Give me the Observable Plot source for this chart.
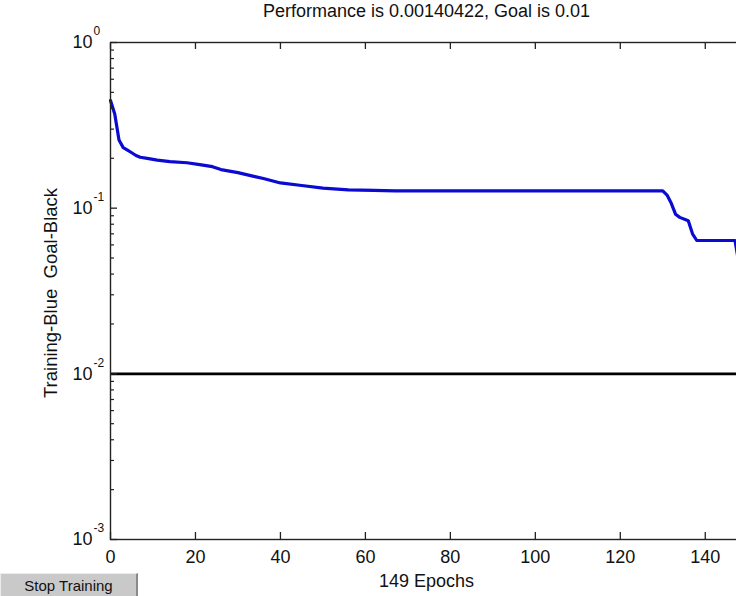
<!DOCTYPE html>
<html>
<head>
<meta charset="utf-8">
<script src="https://cdn.jsdelivr.net/npm/d3@7"></script>
<script src="https://cdn.jsdelivr.net/npm/@observablehq/plot@0.6"></script>
<style>
  html, body { margin: 0; padding: 0; background: #fff; }
  #wrap { position: relative; width: 736px; height: 596px; overflow: hidden; font-family: "Liberation Sans", Arial, sans-serif; }
  #title { position: absolute; left: 0; width: 853px; top: 2px; text-align: center; font-size: 18px; line-height: 18px; color: #111; }
  #xlabel { position: absolute; left: 0; width: 853px; top: 572px; text-align: center; font-size: 18px; line-height: 18px; color: #111; }
  #btn { position: absolute; left: 0; top: 573px; width: 135px; height: 26px; background: #c9c9c9;
         border-top: 1px solid #ececec; border-left: 1px solid #ececec; border-right: 2px solid #8a8a8a;
         font-size: 15px; line-height: 24px; text-align: center; color: #111; box-sizing: content-box; }
  #chart { position: absolute; left: 0; top: 0; width: 760px; }
  #chart svg { max-width: none !important; width: 760px; height: 596px; }
</style>
</head>
<body>
<div id="wrap">
  <div id="chart"></div>
  <div id="title">Performance is 0.00140422, Goal is 0.01</div>
  <div id="xlabel">149 Epochs</div>
  <div id="btn">Stop Training</div>
</div>
<script>
// ---- data ----
const epochs = [0, 1, 2, 3, 4, 5, 6, 7, 9, 11, 14, 18, 21, 24, 26, 30, 34, 36, 40, 45, 50, 56, 62, 67, 100, 130, 131, 132, 133, 134, 136, 137, 138, 147, 148, 149];
const performance = [0.446, 0.37, 0.258, 0.232, 0.224, 0.216, 0.208, 0.203, 0.199, 0.195, 0.191, 0.188, 0.183, 0.178, 0.171, 0.164, 0.155, 0.151, 0.142, 0.137, 0.132, 0.129, 0.128, 0.127, 0.127, 0.127, 0.12, 0.107, 0.092, 0.088, 0.084, 0.07, 0.0638, 0.0638, 0.045, 0.0014];
const goal = 0.01;
const xTicks = [0, 20, 40, 60, 80, 100, 120, 140];
const yDecades = [0.001, 0.01, 0.1, 1];
const yExponents = ["-3", "-2", "-1", "0"];
const xDomain = [0, 149];
const yDomain = [0.001, 1];

const perfData = epochs.map((e, i) => ({epoch: e, perf: performance[i]}));
const yMinor = [];
for (const d of yDecades.slice(0, -1)) for (let k = 2; k <= 9; k++) yMinor.push(d * k);

const FONT = "Liberation Sans, Arial, sans-serif";

const chart = Plot.plot({
  width: 760,
  height: 596,
  marginLeft: 110,
  marginRight: 17,
  marginTop: 42,
  marginBottom: 57,
  style: {fontFamily: FONT, background: "transparent", color: "#111", overflow: "visible", maxWidth: "none"},
  x: {domain: xDomain, axis: null},
  y: {type: "log", domain: yDomain, axis: null},
  marks: [
    Plot.ruleY([goal], {stroke: "#000", strokeWidth: 2.6}),
    Plot.line(perfData, {x: "epoch", y: "perf", stroke: "#0a0ad2", strokeWidth: 3.2, strokeLinejoin: "round"}),
    Plot.frame({stroke: "#222", strokeWidth: 1.4}),
    Plot.axisX({anchor: "bottom", ticks: xTicks, tickSize: -7, tickFormat: () => "", label: null, stroke: "#222", strokeWidth: 1.3}),
    Plot.axisX({anchor: "top", ticks: xTicks, tickSize: -6, tickFormat: () => "", label: null, stroke: "#222", strokeWidth: 1.3}),
    Plot.axisY({anchor: "left", ticks: yDecades, tickSize: -7, tickFormat: () => "", label: null, stroke: "#222", strokeWidth: 1.3}),
    Plot.axisY({anchor: "left", ticks: yMinor, tickSize: -4, tickFormat: () => "", label: null, stroke: "#222", strokeWidth: 1.2}),
    Plot.text(xTicks, {x: d => d, frameAnchor: "bottom", dy: 18, lineAnchor: "middle", text: d => String(d), fontSize: 18, fill: "#111"}),
    Plot.text(yDecades, {y: d => d, frameAnchor: "left", dx: -18, textAnchor: "end", lineAnchor: "middle", text: () => "10", fontSize: 18, fill: "#111"}),
    Plot.text(yDecades, {y: d => d, frameAnchor: "left", dx: -17, dy: -11, textAnchor: "start", lineAnchor: "middle", text: (d, i) => yExponents[i], fontSize: 12, fill: "#111"}),
    Plot.text(["Training-Blue  Goal-Black"], {frameAnchor: "left", dx: -59, dy: 2, rotate: -90, textAnchor: "middle", lineAnchor: "middle", text: d => d, fontSize: 18.5, fill: "#111"})
  ]
});
document.getElementById("chart").appendChild(chart);
</script>
</body>
</html>
